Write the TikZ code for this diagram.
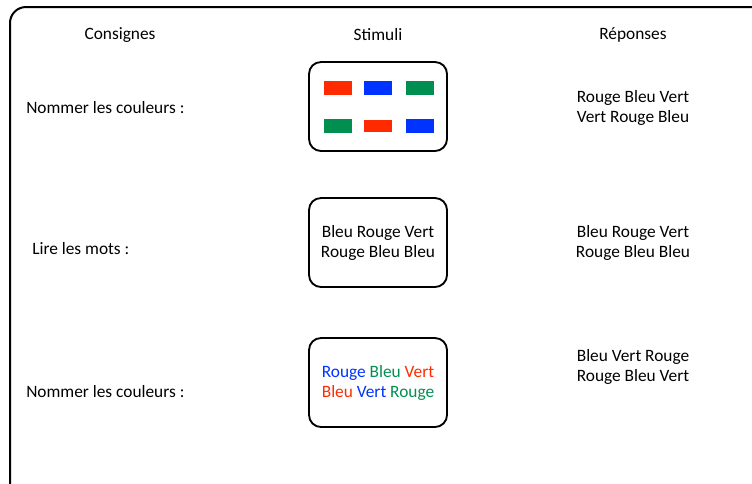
\documentclass[tikz,border=0pt]{standalone}
\usepackage{fontspec}
\setmainfont{Carlito}
\definecolor{rouge}{RGB}{255,42,0}
\definecolor{bleu}{RGB}{0,51,255}
\definecolor{vert}{RGB}{0,143,80}
\tikzset{
  stimbox/.style={draw, line width=1.4pt, rounded corners=9pt},
  txt/.style={draw=none, font=\fontsize{13}{15}\selectfont, align=center, inner sep=0pt},
}
\begin{document}
\begin{tikzpicture}[x=0.75pt, y=-0.75pt]

\useasboundingbox (0,0) rectangle (752,483);
\clip (0,0) rectangle (752,483);
\draw[line width=1.5pt, rounded corners=12pt] (10,7) rectangle (775,500);

\node[txt] (hcons) at (120,35) {Consignes};
\node[txt] (hstim) at (378,35) {Stimuli};
\node[txt] (hrep) at (633,35) {R\'eponses};

% ligne 1
\node[txt, anchor=west] (cons1) at (26,108) {Nommer les couleurs :};
\draw[stimbox] (309,62) rectangle (447,151);
\foreach \x/\c in {324/rouge, 364/bleu, 406/vert} {
  \fill[\c] (\x,81) rectangle (\x+28,95);
}
\foreach \x/\c in {324/vert, 406/bleu} {
  \fill[\c] (\x,119) rectangle (\x+28,133);
}
\fill[rouge] (364,120) rectangle (392,132);
\node[txt] (rep1) at (633,108) {Rouge Bleu Vert\\Vert Rouge Bleu};

% ligne 2
\node[txt, anchor=west] (cons2) at (32,249) {Lire les mots :};
\draw[stimbox] (309,198) rectangle (447,287);
\node[txt] (stim2) at (378,243) {Bleu Rouge Vert\\Rouge Bleu Bleu};
\node[txt] (rep2) at (633,243) {Bleu Rouge Vert\\Rouge Bleu Bleu};

% ligne 3
\node[txt, anchor=west] (cons3) at (26,392) {Nommer les couleurs :};
\draw[stimbox] (309,338) rectangle (447,427);
\node[txt] (stim3) at (378,383) {\textcolor{bleu}{Rouge} \textcolor{vert}{Bleu} \textcolor{rouge}{Vert}\\
  \textcolor{rouge}{Bleu} \textcolor{bleu}{Vert} \textcolor{vert}{Rouge}};
\node[txt] (rep3) at (633,367) {Bleu Vert Rouge\\Rouge Bleu Vert};

\end{tikzpicture}
\end{document}
